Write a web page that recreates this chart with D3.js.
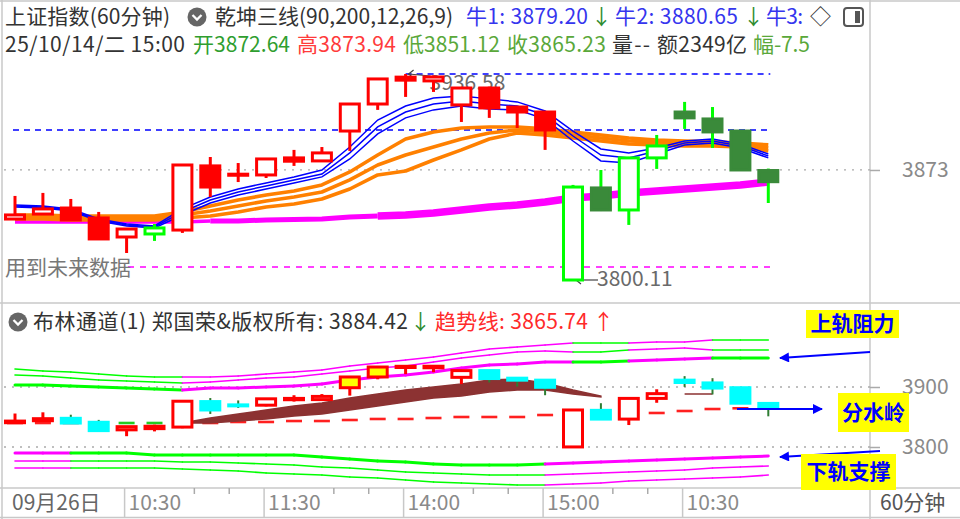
<!DOCTYPE html>
<html><head><meta charset="utf-8">
<script src="https://cdn.jsdelivr.net/npm/d3@7"></script>
<style>
html,body{margin:0;padding:0;background:#fff;}
svg{display:block;font-family:"Noto Sans CJK SC","Noto Sans",sans-serif;}
</style></head><body>
<svg id="c" width="960" height="519"></svg>
<script>
// ---------------- DATA ----------------
const times = [
"09/26 10:30","09/26 11:30","09/26 14:00","09/26 15:00",
"09/29 10:30","09/29 11:30","09/29 14:00","09/29 15:00",
"09/30 10:30","09/30 11:30","09/30 14:00","09/30 15:00",
"10/09 10:30","10/09 11:30","10/09 14:00","10/09 15:00",
"10/10 10:30","10/10 11:30","10/10 14:00","10/10 15:00",
"10/13 10:30","10/13 11:30","10/13 14:00","10/13 15:00",
"10/14 10:30","10/14 11:30","10/14 14:00","10/14 15:00"];
const openPx  = [3840.5,3843.8,3847.8,3841.2,3828.6,3830.6,3833.2,3875.7,3869.5,3869.7,3881.0,3879.0,3898.8,3916.7,3934.5,3932.0,3916.1,3927.3,3914.7,3911.4,3800.11,3861.1,3846.5,3881.0,3911.4,3906.8,3898.8,3872.64];
const highPx  = [3855.8,3857.8,3853.8,3845.2,3834.2,3837.2,3876.6,3881.6,3877.6,3880.6,3886.3,3888.2,3917.0,3933.6,3936.58,3935.5,3927.6,3928.2,3915.3,3911.8,3863.1,3873.0,3881.2,3896.2,3918.1,3914.7,3899.0,3873.94];
const lowPx   = [3840.2,3843.5,3839.6,3827.0,3818.0,3826.0,3831.3,3855.1,3865.0,3867.7,3875.7,3878.8,3885.6,3912.8,3921.4,3924.7,3904.8,3907.5,3900.8,3886.3,3800.11,3845.8,3836.6,3873.7,3900.2,3887.6,3872.3,3851.12];
const closePx = [3843.2,3847.2,3839.9,3827.3,3833.9,3834.6,3876.3,3861.7,3870.2,3880.3,3878.8,3884.3,3916.7,3933.3,3932.5,3934.6,3927.3,3914.1,3911.4,3899.5,3861.7,3846.5,3881.0,3888.9,3907.5,3898.2,3873.0,3865.23];
// candle colour classes (main panel / Bollinger panel)
const mainStyle  = ["rh","rh","rf","rf","rh","gh","rh","rf","rh","rh","rf","rh","rh","rh","rf","rh","rh","rf","rf","rf","gh","gf","gh","gh","gf","gf","gf","gf"];
const lowerStyle = ["r","r","c","c","r","r","r","c","c","r","r","r","y","y","y","y","r","c","c","c","r","c","r","r","c","c","c","c"];

// 乾坤三线 lines
const magLine = [3838.5,3838.5,3838.5,3838.5,3838.5,3838.5,3838.5,3839.2,3839.2,3839.9,3840.2,3840.5,3841.9,3842.5,3843.2,3844.5,3846.5,3848.5,3849.8,3851.8,3854.4,3855.8,3857.8,3859.1,3860.4,3861.7,3863.1,3865.0];
const blueA = [3849.8,3849.1,3847.2,3840.5,3837.2,3835.9,3847.2,3855.1,3860.4,3864.4,3868.4,3873.0,3888.2,3906.1,3915.4,3920.7,3922.0,3920.1,3918.1,3912.1,3898.8,3886.9,3884.3,3887.6,3892.2,3893.5,3890.2,3883.6];
const blueB = [3849.1,3848.5,3846.5,3839.9,3836.6,3835.2,3845.2,3853.1,3858.4,3862.4,3866.4,3870.3,3884.3,3901.5,3911.4,3916.7,3918.7,3916.7,3915.4,3909.4,3895.5,3882.9,3881.0,3885.6,3890.9,3892.2,3888.9,3882.3];
const blueC = [3848.5,3847.8,3845.8,3839.2,3835.9,3834.6,3843.2,3851.1,3856.4,3860.4,3864.4,3868.4,3880.3,3896.9,3907.5,3912.8,3915.4,3913.4,3912.8,3906.8,3892.2,3879.0,3877.6,3883.6,3889.6,3890.9,3887.6,3881.0];
const orA = [3843.2,3843.2,3842.5,3842.5,3842.5,3842.5,3845.2,3849.1,3853.1,3856.4,3859.1,3863.1,3871.7,3882.9,3893.5,3898.2,3900.8,3901.5,3901.5,3900.2,3898.2,3896.2,3894.2,3892.9,3892.2,3891.6,3890.9,3889.6];
const orB = [3841.9,3841.9,3841.2,3841.2,3841.2,3841.2,3843.2,3845.8,3849.1,3852.5,3855.1,3858.4,3866.4,3876.3,3882.9,3888.2,3893.5,3897.5,3899.5,3898.2,3896.2,3894.2,3892.2,3891.6,3890.9,3890.2,3889.6,3887.6];
const orC = [3840.5,3840.5,3839.9,3839.9,3839.9,3839.9,3841.2,3842.5,3845.2,3848.5,3850.5,3853.8,3860.4,3869.7,3872.3,3879.6,3886.3,3893.5,3897.5,3896.2,3894.2,3892.2,3890.2,3889.6,3888.9,3888.9,3888.2,3885.6];
const levelBlue = 3899.5;   // blue dashed level
const levelPink = 3808.7;   // magenta dashed level

// 布林通道 panel
const upT = [3930.0,3926.7,3925.0,3921.7,3918.3,3916.7,3916.7,3916.7,3918.3,3921.7,3925.0,3928.3,3935.0,3940.0,3945.0,3950.0,3956.7,3963.3,3966.7,3970.0,3973.3,3973.3,3973.3,3975.0,3975.0,3978.3,3978.3,3978.3];
const upM = [3920.0,3918.3,3915.0,3911.7,3910.0,3908.3,3906.7,3908.3,3911.7,3915.0,3916.7,3921.7,3926.7,3931.7,3935.0,3941.7,3948.3,3953.3,3958.3,3960.0,3958.3,3958.3,3961.7,3963.3,3965.0,3961.7,3961.7,3961.7];
const upI = [3903.3,3903.3,3901.7,3900.0,3898.3,3896.7,3895.0,3898.3,3898.3,3900.0,3901.7,3905.0,3911.7,3916.7,3920.0,3925.0,3931.7,3936.7,3938.3,3941.7,3941.7,3941.7,3943.3,3945.0,3946.7,3948.3,3948.3,3948.3];
const loI = [3790.0,3790.0,3790.0,3790.0,3790.0,3786.7,3786.7,3786.7,3786.7,3786.7,3786.7,3783.3,3780.0,3776.7,3775.0,3771.7,3770.0,3770.0,3770.0,3771.7,3773.3,3775.0,3776.7,3778.3,3780.0,3781.7,3783.3,3785.0];
const loM = [3776.7,3776.7,3776.7,3776.7,3776.7,3776.7,3775.0,3775.0,3773.3,3771.7,3770.0,3766.7,3765.0,3761.7,3758.3,3756.7,3755.0,3753.3,3753.3,3753.3,3755.0,3756.7,3758.3,3760.0,3761.7,3765.0,3766.7,3768.3];
const loB = [3765.0,3765.0,3765.0,3765.0,3765.0,3765.0,3763.3,3761.7,3760.0,3756.7,3755.0,3753.3,3750.0,3748.3,3745.0,3741.7,3740.0,3738.3,3736.7,3736.7,3738.3,3740.0,3743.3,3745.0,3746.7,3748.3,3750.0,3753.3];
const upColor = ["g","g","g","g","g","g","g","m","m","m","m","m","m","m","m","m","m","m","m","m","m","g","g","m","m","m","g","g"];
const loColor = ["m","m","m","g","g","g","g","g","g","g","g","g","g","g","g","g","g","g","g","g","m","m","m","m","m","m","m","m"];
const brownTop = [null,null,null,null,null,null,3840.0,3848.3,3855.0,3861.7,3868.3,3873.3,3881.7,3888.3,3895.0,3900.0,3905.0,3911.7,3913.3,3906.7,3895.0,3885.0,null,null,3888.3,3888.3,null,null];
const brownBot = [null,null,null,null,null,null,3840.0,3840.0,3843.3,3846.7,3851.7,3855.0,3861.7,3868.3,3875.0,3881.7,3885.0,3891.7,3895.0,3895.0,3888.3,3883.3,null,null,3888.3,3888.3,null,null];
const trend = [3840,3840,3840,3840,3840,3840,3840,3840,3841.7,3841.7,3843.3,3843.3,3845,3846.7,3846.7,3848.3,3850,3850,3850,3853.3,3853.3,3855,3855,3856.7,3860,3863.3,3864.5,3865.74];
const trendColor = ["r","r","r","g","g","g","r","r","r","r","r","r","r","r","r","r","r","r","r","r","r","r","r","r","r","r","r","r"];

// axis
const axisBars   = ["09/29 10:30","09/30 11:30","10/09 14:00","10/10 15:00","10/14 10:30"];
const axisLabels = ["10:30","11:30","14:00","15:00","10:30"];
const topTicks = [3873];
const botTicks = [3800, 3900];

// ---------------- DRAW ----------------
(function(){
const svg = d3.select("#c");
const x = d3.scalePoint().domain(times).range([15, 768.3]);
const step = x.step();
const yT = d3.scaleLinear().domain([3800.11, 3936.58]).range([280, 74]);
const yB = d3.scaleLinear().domain([3800, 3900]).range([447, 387]);
const X = i => x(times[i]);
const COL = {red:"#ff0000", green:"#00ff00", dgreen:"#3a8a3a", mag:"#ff00ff", blue:"#0000ff", orange:"#ff8000", cyan:"#00ffff", yellow:"#ffff00"};

svg.append("rect").attr("width",960).attr("height",519).attr("fill","#ffffff");

const frame = svg.append("g").attr("stroke","#c8c8c8").attr("stroke-width",1.5);
[[0,1,960,1],[2,0,2,519],[870,0,870,519],[0,303,960,303],[0,488,960,488],[0,517.5,960,517.5]]
 .forEach(l=>frame.append("line").attr("x1",l[0]).attr("y1",l[1]).attr("x2",l[2]).attr("y2",l[3]));

const dot = (y)=>svg.append("line").attr("x1",4).attr("x2",870).attr("y1",y).attr("y2",y)
  .attr("stroke","#aaaaaa").attr("stroke-width",1.3).attr("stroke-dasharray","2,6");
topTicks.forEach(v=>dot(yT(v)));
botTicks.forEach(v=>dot(yB(v)));

function styleAxis(g){
  g.select(".domain").remove();
  g.selectAll(".tick line").attr("stroke","#aaaaaa").attr("stroke-width",1.5);
  g.selectAll(".tick text").attr("fill","#8a8a8a").attr("font-size",21).attr("font-family",'"Noto Sans CJK SC","Noto Sans",sans-serif');
}
svg.append("g").attr("transform","translate(870,0)")
  .call(d3.axisRight(yT).tickValues(topTicks).tickSize(10).tickPadding(22).tickFormat(d3.format("d"))).call(styleAxis);
svg.append("g").attr("transform","translate(870,0)")
  .call(d3.axisRight(yB).tickValues(botTicks).tickSize(10).tickPadding(22).tickFormat(d3.format("d"))).call(styleAxis);

// ---- main panel ----
const topG = svg.append("g");
const lineT = arr => d3.line().x((d,i)=>X(i)).y(d=>yT(d))(arr);

topG.append("line").attr("x1",X(0)-2).attr("x2",X(27)+2).attr("y1",yT(levelBlue)).attr("y2",yT(levelBlue))
  .attr("stroke",COL.blue).attr("stroke-width",1.6).attr("stroke-dasharray","6,5");
const hiI = d3.maxIndex(highPx), loIdx = d3.minIndex(lowPx);
topG.append("line").attr("x1",X(hiI)).attr("x2",X(27)+2).attr("y1",yT(highPx[hiI])).attr("y2",yT(highPx[hiI]))
  .attr("stroke",COL.blue).attr("stroke-width",1.6).attr("stroke-dasharray","6,5");
topG.append("line").attr("x1",128).attr("x2",X(27)+2).attr("y1",yT(levelPink)).attr("y2",yT(levelPink))
  .attr("stroke",COL.mag).attr("stroke-width",1.6).attr("stroke-dasharray","6,6");

[[0,7,3.5],[7,13,5],[13,27,7.5]].forEach(([a,b,w])=>{
  topG.append("path").attr("d", d3.line().x(i=>X(i)).y(i=>yT(magLine[i]))(d3.range(a,b+1)))
    .attr("fill","none").attr("stroke",COL.mag).attr("stroke-width",w).attr("stroke-linejoin","round");
});
[orC,orB,orA].forEach(a=>topG.append("path").attr("d",lineT(a)).attr("fill","none")
  .attr("stroke",COL.orange).attr("stroke-width",3.6).attr("stroke-linejoin","round"));
[blueA,blueB,blueC].forEach(a=>topG.append("path").attr("d",lineT(a)).attr("fill","none")
  .attr("stroke",COL.blue).attr("stroke-width",1.5));

function priceLabel(i, v, dy){
  const cx = X(i)+3, cy = yT(v);
  const g = topG.append("g");
  g.append("path").attr("d",`M${cx},${cy} L${cx+22},${cy+(dy>0?2:0)}`).attr("stroke","#444").attr("stroke-width",1.2).attr("fill","none");
  g.append("path").attr("d",`M${cx+5},${cy-4} L${cx},${cy} L${cx+5},${cy+4}`).attr("stroke","#444").attr("stroke-width",1.2).attr("fill","none");
  g.append("text").attr("x",cx+21).attr("y",cy+dy).attr("dy","0.35em").attr("font-size",21).attr("fill","#6a6a6a").text(v.toFixed(2));
}
priceLabel(hiI, highPx[hiI], 9);
priceLabel(loIdx, lowPx[loIdx], -1);

function candles(g, y, styleArr, styles){
  times.forEach((t,i)=>{
    const s = styles[styleArr[i]], cx = X(i);
    g.append("line").attr("x1",cx).attr("x2",cx).attr("y1",y(highPx[i])).attr("y2",y(lowPx[i]))
      .attr("stroke",s.wick).attr("stroke-width",s.ww);
    const y0 = Math.min(y(openPx[i]),y(closePx[i])), h = Math.max(Math.abs(y(openPx[i])-y(closePx[i])),1);
    g.append("rect").attr("x",cx-9.5).attr("width",19).attr("y",y0).attr("height",h)
      .attr("fill",s.fill).attr("stroke",s.stroke).attr("stroke-width",3);
  });
}
candles(topG.append("g"), yT, mainStyle, {
  rh:{fill:"#ffffff",stroke:COL.red,wick:COL.red,ww:3},
  rf:{fill:COL.red,stroke:COL.red,wick:COL.red,ww:3},
  gh:{fill:"#ffffff",stroke:COL.green,wick:COL.green,ww:3},
  gf:{fill:COL.dgreen,stroke:COL.dgreen,wick:COL.green,ww:3}
});

topG.append("text").attr("x",5).attr("y",268).attr("dy","0.35em").attr("font-size",21).attr("fill","#777")
  .attr("textLength",126).attr("lengthAdjust","spacing").text("用到未来数据");

// ---- Bollinger panel ----
const botG = svg.append("g");
function colouredLine(arr, colors, w){
  for(let i=1;i<arr.length;i++){
    botG.append("line").attr("x1",X(i-1)).attr("x2",X(i)).attr("y1",yB(arr[i-1])).attr("y2",yB(arr[i]))
      .attr("stroke", colors[i]==="g"?COL.green:COL.mag).attr("stroke-width",w).attr("stroke-linecap","round");
  }
}
colouredLine(upT, upColor, 1.6); colouredLine(upM, upColor, 1.6); colouredLine(upI, upColor, 3);
colouredLine(loI, loColor, 3); colouredLine(loM, loColor, 1.6); colouredLine(loB, loColor, 1.6);

trend.forEach((v,i)=>botG.append("line").attr("x1",X(i)-8).attr("x2",X(i)+8).attr("y1",yB(v)).attr("y2",yB(v))
  .attr("stroke", trendColor[i]==="g"?"#22cc22":"#ff2020").attr("stroke-width",2.6));

const band = times.map((t,i)=>({i, a:brownTop[i], b:brownBot[i]}));
botG.append("path").datum(band)
  .attr("d", d3.area().defined(d=>d.a!==null).x(d=>X(d.i)).y0(d=>yB(d.b)).y1(d=>yB(d.a)))
  .attr("fill","#8c3232").attr("stroke","#8c3232").attr("stroke-width",1.5);

candles(botG.append("g"), yB, lowerStyle, {
  r:{fill:"#ffffff",stroke:COL.red,wick:COL.red,ww:3},
  c:{fill:COL.cyan,stroke:COL.cyan,wick:"#2e7d32",ww:2},
  y:{fill:COL.yellow,stroke:COL.red,wick:COL.red,ww:3}
});

// ---- time axis ----
const ax = svg.append("g");
ax.append("text").attr("x",12).attr("y",503).attr("dy","0.35em").attr("font-size",21).attr("fill","#666").text("09月26日");
axisBars.forEach((b,k)=>{
  const px = x(b)-2;
  ax.append("line").attr("x1",px).attr("x2",px).attr("y1",488).attr("y2",517).attr("stroke","#c8c8c8").attr("stroke-width",1.5);
  ax.append("text").attr("x",px+4).attr("y",503).attr("dy","0.35em").attr("font-size",21).attr("fill","#8a8a8a").text(axisLabels[k]);
  if(k<axisBars.length-1){
    [2.5,3.75].forEach(f=>ax.append("line").attr("x1",px+f*step).attr("x2",px+f*step).attr("y1",488).attr("y2",494)
      .attr("stroke","#aaaaaa").attr("stroke-width",1.5));
  }
});
ax.append("text").attr("x",880).attr("y",503).attr("dy","0.35em").attr("font-size",21).attr("fill","#555").text("60分钟");

// ---- headers ----
function icon(cx,cy){
  svg.append("circle").attr("cx",cx).attr("cy",cy).attr("r",9.5).attr("fill","#666");
  svg.append("path").attr("d",`M${cx-4.5},${cy-2} L${cx},${cy+2.5} L${cx+4.5},${cy-2}`).attr("stroke","#fff").attr("stroke-width",2.3).attr("fill","none");
}
function txt(xp,yc,s,c,len){
  const t = svg.append("text").attr("x",xp).attr("y",yc).attr("dy","0.35em").attr("font-size",21).attr("fill",c).text(s);
  if(len) t.attr("textLength",len).attr("lengthAdjust","spacing");
  return t;
}
txt(5,17,"上证指数(60分钟)","#333",165);
icon(197,17);
txt(215,17,"乾坤三线(90,200,12,26,9)","#333",238);
txt(466,17,"牛1: 3879.20","#3535ee",122);
txt(591,17,"↓","#2e8b2e");
txt(615,17,"牛2: 3880.65","#3535ee",123);
txt(743,17,"↓","#2e8b2e");
txt(766,17,"牛3:","#3535ee",37);
txt(810,17,"◇","#333");
svg.append("rect").attr("x",844).attr("y",8).attr("width",19).attr("height",18).attr("rx",3).attr("fill","none").attr("stroke","#555").attr("stroke-width",2);
svg.append("rect").attr("x",855).attr("y",11).attr("width",5).attr("height",12).attr("fill","#555");

txt(5,45,"25/10/14/二 15:00","#333",180);
txt(193,45,"开3872.64","#2f9e2f",97);
txt(297,45,"高3873.94","#ff3b3b",99);
txt(403,45,"低3851.12","#5aa83a",97);
txt(507,45,"收3865.23","#5aa83a",99);
txt(612,45,"量--","#333",38);
txt(657,45,"额2349亿","#333",90);
txt(753,45,"幅-7.5","#5aa83a",57);

icon(18,322);
txt(33,322,"布林通道(1) 郑国荣&版权所有: 3884.42","#333",375);
txt(410,322,"↓","#2e8b2e");
txt(435,322,"趋势线: 3865.74","#ff2a2a",153);
txt(593,322,"↑","#ff2a2a");

// ---- annotations ----
const defs = svg.append("defs");
defs.append("marker").attr("id","ah").attr("viewBox","0 0 10 10").attr("refX",9).attr("refY",5)
  .attr("markerWidth",6).attr("markerHeight",5).attr("orient","auto")
  .append("path").attr("d","M0,0 L10,5 L0,10 z").attr("fill",COL.blue);
[[870,352,780,358],[737,409,822,409],[880,451,780,457]].forEach(a=>
  svg.append("line").attr("x1",a[0]).attr("y1",a[1]).attr("x2",a[2]).attr("y2",a[3])
   .attr("stroke",COL.blue).attr("stroke-width",2).attr("marker-end","url(#ah)"));
[["上轨阻力",806,310,93,28],["分水岭",838,393,71,39],["下轨支撑",801,454,95,36]].forEach(b=>{
  svg.append("rect").attr("x",b[1]).attr("y",b[2]).attr("width",b[3]).attr("height",b[4]).attr("fill",COL.yellow);
  svg.append("text").attr("x",b[1]+b[3]/2).attr("y",b[2]+b[4]/2).attr("dy","0.35em").attr("text-anchor","middle")
    .attr("font-size",21).attr("font-weight","bold").attr("fill",COL.blue).text(b[0]);
});
})();
</script>
</body></html>
